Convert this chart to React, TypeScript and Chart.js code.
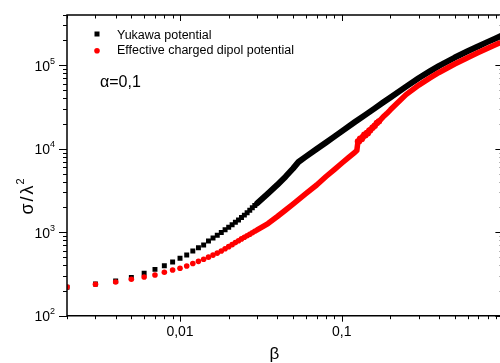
import React, { useEffect, useRef } from "react";
import { Chart, registerables } from "chart.js";

Chart.register(...registerables);

// β values and σ/λ² for the Yukawa potential (black squares)
const BETA_YUKAWA = [
  0.002, 0.003, 0.004, 0.005, 0.006, 0.007, 0.008, 0.009, 0.01, 0.011, 0.012, 0.013, 0.014, 0.015,
  0.016, 0.017, 0.018, 0.019, 0.02, 0.021, 0.022, 0.023, 0.024, 0.025, 0.026, 0.027, 0.028, 0.029, 0.03,
  0.035, 0.04, 0.045, 0.05, 0.054, 0.06, 0.07, 0.08, 0.09, 0.1, 0.12, 0.14, 0.16, 0.18, 0.2,
  0.25, 0.3, 0.35, 0.4, 0.5, 0.6, 0.7, 0.8, 0.9, 1.0,
];
const SIGMA_YUKAWA = [
  219, 240, 260, 288, 322, 359, 397, 440, 487, 533, 596, 652, 703, 785,
  852, 918, 992, 1069, 1148, 1230, 1314, 1404, 1500, 1603, 1712, 1835, 1966, 2094, 2225,
  2908, 3697, 4647, 5793, 6930, 8043, 9917, 11900, 13960, 16160, 20720, 25470, 30460, 35760, 41150,
  55440, 70300, 84500, 98350, 123700, 147100, 169300, 190700, 211200, 231300,
];

// β values and σ/λ² for the effective charged dipol potential (red circles)
const BETA_DIPOL = [
  0.002, 0.003, 0.004, 0.005, 0.006, 0.007, 0.008, 0.009, 0.01, 0.011, 0.012, 0.013, 0.014, 0.015,
  0.016, 0.017, 0.018, 0.019, 0.02, 0.021, 0.022, 0.023, 0.024, 0.025, 0.026, 0.027, 0.028, 0.029, 0.03,
  0.035, 0.04, 0.045, 0.05, 0.06, 0.07, 0.08, 0.09, 0.1, 0.11, 0.12, 0.124,
  0.126, 0.128, 0.13, 0.133, 0.135, 0.138, 0.14, 0.143, 0.145, 0.148, 0.15, 0.155, 0.16, 0.165, 0.17,
  0.18, 0.19, 0.2, 0.22, 0.25, 0.3, 0.35, 0.4, 0.5, 0.6, 0.7, 0.8, 0.9, 1.0,
];
const SIGMA_DIPOL = [
  221, 238, 253, 273, 291, 307, 331, 353, 370, 394, 422, 448, 475, 503,
  532, 562, 596, 633, 672, 710, 751, 791, 832, 869, 908, 946, 986, 1025, 1065,
  1271, 1542, 1845, 2177, 2908, 3676, 4647, 5636, 6705, 7826, 9006, 9515,
  12200, 12300, 13200, 13100, 13800, 14700, 14500, 15500, 15300, 16400, 16700, 17900, 18900, 20400, 21300,
  23970, 26400, 29240, 34980, 44460, 57910, 70070, 81990, 103400, 123300, 141900, 159800, 177000, 193900,
];

const X_MIN = 0.002;
const X_MAX = 1;
const Y_MIN = 100;
const Y_MAX = 400000;

const X_TICK_VALUES = [0.01, 0.1];
const X_TICK_LABELS = ["0,01", "0,1"];
const Y_TICK_VALUES = [100, 1000, 10000, 100000];
const Y_TICK_EXPONENTS = ["2", "3", "4", "5"];

const SERIES_NAMES = ["Yukawa potential", "Effective charged dipol potential"];
const ANNOTATION = "α=0,1";
const X_TITLE = "β";
const Y_TITLE = "σ/λ";
const Y_TITLE_SUP = "2";

const FONT = '"Liberation Sans", Arial, sans-serif';

const decorPlugin = {
  id: "decor",
  afterDatasetsDraw(chart: any) {
    const ctx: CanvasRenderingContext2D = chart.ctx;
    const xs = chart.scales.x;
    const ys = chart.scales.y;
    const { left, right, top, bottom } = chart.chartArea;
    ctx.save();
    ctx.strokeStyle = "#000";
    ctx.fillStyle = "#000";
    ctx.lineWidth = 1.5;
    ctx.beginPath();
    ctx.moveTo(left, top);
    ctx.lineTo(left, bottom);
    ctx.lineTo(right, bottom);
    ctx.lineTo(right, top);
    ctx.closePath();
    ctx.stroke();

    ctx.lineWidth = 1;
    // x ticks (bottom outward, top inward)
    for (let d = -3; d <= 0; d++) {
      for (let m = 1; m <= 9; m++) {
        const v = m * Math.pow(10, d);
        if (v < X_MIN * 0.999 || v > X_MAX * 1.001) continue;
        const px = Math.round(xs.getPixelForValue(v)) + 0.5;
        const len = m === 1 ? 6 : 3.5;
        ctx.beginPath();
        ctx.moveTo(px, bottom);
        ctx.lineTo(px, bottom + len);
        ctx.moveTo(px, top);
        ctx.lineTo(px, top + len);
        ctx.stroke();
      }
    }
    // y ticks (left outward, right inward)
    for (let d = 2; d <= 5; d++) {
      for (let m = 1; m <= 9; m++) {
        const v = m * Math.pow(10, d);
        if (v < Y_MIN * 0.999 || v > Y_MAX * 1.001) continue;
        const py = Math.round(ys.getPixelForValue(v)) + 0.5;
        const len = m === 1 ? 8 : 4;
        ctx.strokeStyle = "#000";
        ctx.beginPath();
        ctx.moveTo(left - len, py);
        ctx.lineTo(left, py);
        ctx.stroke();
        ctx.strokeStyle = m === 1 ? "#000" : "#888";
        ctx.beginPath();
        ctx.moveTo(right - len, py);
        ctx.lineTo(right, py);
        ctx.stroke();
      }
    }

    // x tick labels
    ctx.font = `14px ${FONT}`;
    ctx.textAlign = "center";
    ctx.textBaseline = "middle";
    X_TICK_VALUES.forEach((v, i) => {
      ctx.fillText(X_TICK_LABELS[i], xs.getPixelForValue(v), bottom + 16.5);
    });

    // y tick labels 10^n
    Y_TICK_VALUES.forEach((v, i) => {
      const py = ys.getPixelForValue(v);
      ctx.font = `9px ${FONT}`;
      ctx.textAlign = "left";
      ctx.textBaseline = "alphabetic";
      const supX = 50;
      ctx.fillText(Y_TICK_EXPONENTS[i], supX, py - 1.5);
      ctx.font = `14px ${FONT}`;
      ctx.textAlign = "right";
      ctx.textBaseline = "middle";
      ctx.fillText("10", supX, py + 1.5);
    });

    // x title
    ctx.font = `17px ${FONT}`;
    ctx.textAlign = "center";
    ctx.textBaseline = "middle";
    ctx.fillText(X_TITLE, 274.5, 354);

    // y title rotated
    ctx.save();
    ctx.translate(33, 195);
    ctx.rotate(-Math.PI / 2);
    ctx.font = `18px ${FONT}`;
    (ctx as any).letterSpacing = "2px";
    const mainW = ctx.measureText(Y_TITLE).width;
    ctx.font = `11px ${FONT}`;
    const supW = ctx.measureText(Y_TITLE_SUP).width;
    const total = mainW + supW;
    ctx.textAlign = "left";
    ctx.textBaseline = "alphabetic";
    ctx.font = `18px ${FONT}`;
    ctx.fillText(Y_TITLE, -total / 2, 0);
    ctx.font = `11px ${FONT}`;
    ctx.fillText(Y_TITLE_SUP, -total / 2 + mainW - 1, -9);
    ctx.restore();

    // legend
    ctx.fillStyle = "#000";
    ctx.fillRect(94.5, 31.5, 5, 5);
    ctx.fillStyle = "#ff0000";
    ctx.beginPath();
    ctx.arc(97, 50.8, 2.8, 0, Math.PI * 2);
    ctx.fill();
    ctx.fillStyle = "#000";
    ctx.font = `12.5px ${FONT}`;
    ctx.textAlign = "left";
    ctx.textBaseline = "middle";
    ctx.fillText(SERIES_NAMES[0], 117, 35.5);
    ctx.fillText(SERIES_NAMES[1], 117, 50.5);

    // annotation
    ctx.font = `16px ${FONT}`;
    ctx.fillText(ANNOTATION, 100, 83);

    ctx.restore();
  },
};

export default function App() {
  const canvasRef = useRef<HTMLCanvasElement | null>(null);

  useEffect(() => {
    const canvas = canvasRef.current;
    if (!canvas) return;
    const yukawa = BETA_YUKAWA.map((b, i) => ({ x: b, y: SIGMA_YUKAWA[i] }));
    const dipol = BETA_DIPOL.map((b, i) => ({ x: b, y: SIGMA_DIPOL[i] }));
    const DENSE = 0.0295;

    const chart = new Chart(canvas, {
      type: "scatter",
      data: {
        datasets: [
          {
            label: SERIES_NAMES[1],
            data: dipol,
            order: 0,
            showLine: true,
            borderColor: "#ff0000",
            borderWidth: 5.5,
            borderJoinStyle: "round",
            borderCapStyle: "round",
            backgroundColor: "#ff0000",
            pointBackgroundColor: "#ff0000",
            pointBorderWidth: 0,
            pointStyle: "circle",
            pointRadius: (c: any) => {
              const x = c.raw ? c.raw.x : 0;
              if (x < DENSE) return 2.8;
              if (x >= 0.125 && x <= 0.17) return 3.2;
              return 0;
            },
            segment: {
              borderColor: (c: any) => (c.p0.parsed.x >= DENSE ? "#ff0000" : "rgba(0,0,0,0)"),
            },
            clip: 0,
          } as any,
          {
            label: SERIES_NAMES[0],
            data: yukawa,
            order: 1,
            showLine: true,
            borderColor: "#000000",
            borderWidth: 6,
            borderJoinStyle: "round",
            borderCapStyle: "round",
            backgroundColor: "#000000",
            pointBackgroundColor: "#000000",
            pointBorderWidth: 0,
            pointStyle: "rect",
            pointRadius: (c: any) => {
              const x = c.raw ? c.raw.x : 0;
              return x < DENSE ? 3.5 : 0;
            },
            segment: {
              borderColor: (c: any) => (c.p0.parsed.x >= DENSE ? "#000000" : "rgba(0,0,0,0)"),
            },
            clip: 0,
          } as any,
        ],
      },
      options: {
        animation: false,
        responsive: false,
        devicePixelRatio: 1,
        events: [],
        layout: { padding: { left: 67, top: 15, right: 6.6, bottom: 47.3 } },
        plugins: { legend: { display: false }, tooltip: { enabled: false } },
        scales: {
          x: { type: "logarithmic", min: X_MIN, max: X_MAX, display: false },
          y: { type: "logarithmic", min: Y_MIN, max: Y_MAX, display: false },
        },
      } as any,
      plugins: [decorPlugin],
    });
    return () => chart.destroy();
  }, []);

  return (
    <div
      style={{
        position: "fixed",
        left: 0,
        top: 0,
        width: 500,
        height: 363,
        overflow: "hidden",
        background: "#fff",
      }}
    >
      <canvas
        ref={canvasRef}
        width={510}
        height={363}
        style={{ position: "absolute", left: 0, top: 0, width: 510, height: 363, display: "block" }}
      />
    </div>
  );
}
